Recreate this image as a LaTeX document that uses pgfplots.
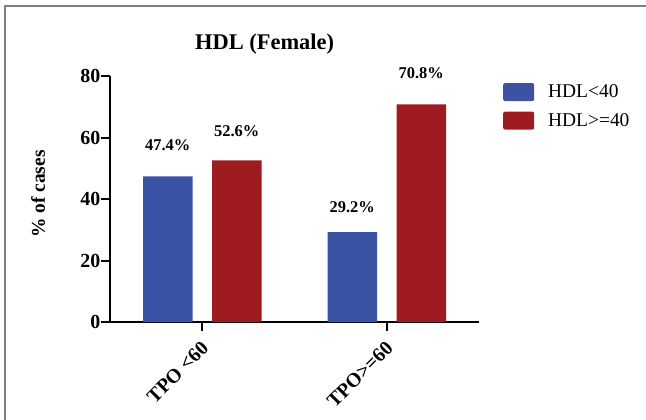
\documentclass[border=0pt]{standalone}
\usepackage{fontspec}
\setmainfont{Liberation Serif}
\usepackage{pgfplots}
\pgfplotsset{compat=1.18}

\definecolor{hdlblue}{RGB}{58,83,164}
\definecolor{hdlred}{RGB}{158,27,32}

\begin{document}
\begin{tikzpicture}
\useasboundingbox (0,0) rectangle (646bp,-420bp);
% frame of the exported figure
\draw[line width=1.3bp, color=black!50] (5bp,-420bp) -- (5bp,-6bp) -- (646bp,-6bp);

\begin{axis}[
    at={(110bp,-322bp)}, anchor=south west,
    scale only axis,
    width=369bp, height=246bp,
    /pgf/number format/assume math mode=true,
    xmin=-0.5, xmax=1.5,
    ymin=0, ymax=80,
    ytick={0,20,40,60,80},
    xtick={0,1},
    xticklabels={TPO <60, TPO>=60},
    axis x line*=bottom, axis y line*=left,
    axis line style={line width=2bp, -},
    tick align=outside,
    major tick length=8.5bp,
    tick style={line width=2bp, black},
    ybar, bar width=49.5bp,
    yticklabel style={font=\bfseries\fontsize{20}{20}\selectfont, inner sep=1bp},
    xticklabel style={font=\bfseries\fontsize{20}{20}\selectfont, rotate=45, anchor=east, inner sep=0pt, yshift=-12bp, xshift=-8bp},
    ylabel={\% of cases},
    ylabel style={font=\bfseries\fontsize{19.5}{19.5}\selectfont, at={(-0.195,0.52)}, anchor=center},
    title={HDL (Female)},
    title style={font=\bfseries\fontsize{22.5}{22.5}\selectfont, at={(0.419,1.085)}, anchor=base},
    nodes near coords={\pgfmathprintnumber[fixed,precision=1,fixed zerofill]{\pgfplotspointmeta}\%},
    visualization depends on={\thisrow{s} \as \labshift},
    every node near coord/.append style={font=\bfseries\fontsize{16.5}{16.5}\selectfont, anchor=south, inner sep=0pt, yshift=\labshift bp},
    legend image code/.code={\fill[#1, draw=none, rounded corners=2bp] (0bp,-9bp) rectangle (31bp,9bp);},
    legend cell align=left,
    legend style={at={(1.065,0.972)}, anchor=north west, draw=none, fill=none,
        inner sep=0pt, row sep=10.5bp, column sep=14bp,
        nodes={inner sep=0pt},
        font=\fontsize{19.5}{19.5}\selectfont},
]
\addplot[fill=hdlblue, draw=none, bar shift=-34.5bp] table {
x y s
0 47.4 25
1 29.2 19
};
\addlegendentry{HDL<40}
\addplot[fill=hdlred, draw=none, bar shift=34.5bp] table {
x y s
0 52.6 23
1 70.8 25
};
\addlegendentry{HDL>=40}
\end{axis}
\end{tikzpicture}
\end{document}
